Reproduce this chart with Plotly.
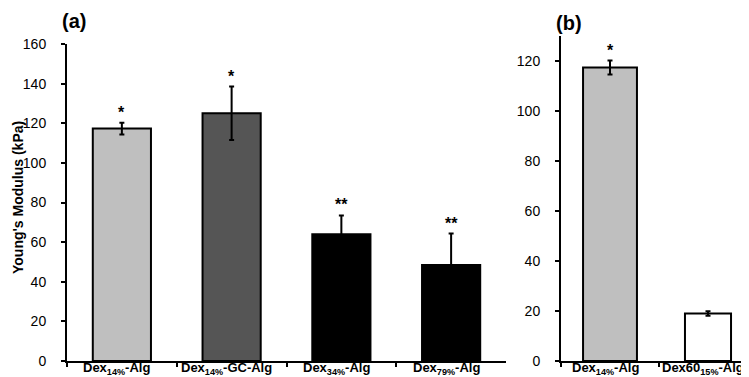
import plotly.graph_objects as go

# Panel (a)
cats_a = ["Dex<sub>14%</sub>-Alg", "Dex<sub>14%</sub>-GC-Alg",
          "Dex<sub>34%</sub>-Alg", "Dex<sub>79%</sub>-Alg"]
vals_a = [117.3, 125.0, 64.0, 48.5]
errs_a = [3.0, 13.5, 9.5, 15.8]
colors_a = ["#BFBFBF", "#555555", "#000000", "#000000"]
stars_a = ["*", "*", "**", "**"]

# Panel (b)
cats_b = ["Dex<sub>14%</sub>-Alg", "Dex60<sub>15%</sub>-Alg"]
vals_b = [117.4, 19.0]
errs_b = [2.8, 0.9]
colors_b = ["#BFBFBF", "#FFFFFF"]
stars_b = ["*", ""]

yticks_a = [0, 20, 40, 60, 80, 100, 120, 140, 160]
yticks_b = [0, 20, 40, 60, 80, 100, 120]

FONT = "Liberation Sans, Arial"

fig = go.Figure()
fig.add_trace(go.Bar(
    x=cats_a, y=vals_a, width=0.53,
    marker=dict(color=colors_a, line=dict(color="black", width=2)),
    error_y=dict(type="data", array=errs_a, color="black", thickness=2, width=2.5),
    xaxis="x", yaxis="y", showlegend=False))
fig.add_trace(go.Bar(
    x=cats_b, y=vals_b, width=[0.55, 0.47],
    marker=dict(color=colors_b, line=dict(color="black", width=2)),
    error_y=dict(type="data", array=errs_b, color="black", thickness=2, width=2.5),
    xaxis="x2", yaxis="y2", showlegend=False))

annotations = []
star_font = dict(size=16, color="black", family=FONT)
cat_font = dict(size=13, color="black", family=FONT)
for c, v, e, s in zip(cats_a, vals_a, errs_a, stars_a):
    annotations.append(dict(x=c, y=v + e, xref="x", yref="y", text="<b>" + s + "</b>",
                            showarrow=False, yanchor="bottom", yshift=0, font=star_font))
    annotations.append(dict(x=c, y=0, xref="x", yref="y", text="<b>" + c + "</b>",
                            showarrow=False, xanchor="center", yanchor="middle",
                            yshift=-7, xshift=-5, font=cat_font))
for c, v, e, s in zip(cats_b, vals_b, errs_b, stars_b):
    if s:
        annotations.append(dict(x=c, y=v + e, xref="x2", yref="y2", text="<b>" + s + "</b>",
                                showarrow=False, yanchor="bottom", yshift=0, font=star_font))
    annotations.append(dict(x=c, y=0, xref="x2", yref="y2", text="<b>" + c + "</b>",
                            showarrow=False, xanchor="center", yanchor="middle",
                            yshift=-7, xshift=-5, font=cat_font))
annotations.append(dict(x=66 / 749, y=1 - 13 / 377, xref="paper", yref="paper", text="<b>(a)</b>",
                        showarrow=False, xanchor="center", yanchor="middle",
                        font=dict(size=20, color="black", family=FONT)))
annotations.append(dict(x=561 / 749, y=1 - 15 / 377, xref="paper", yref="paper", text="<b>(b)</b>",
                        showarrow=False, xanchor="center", yanchor="middle",
                        font=dict(size=20, color="black", family=FONT)))
annotations.append(dict(x=10 / 749, y=1 - 190 / 377, xref="paper", yref="paper",
                        text="<b>Young's Modulus (kPa)</b>", textangle=-90,
                        showarrow=False, xanchor="center", yanchor="middle",
                        font=dict(size=14, color="black", family=FONT)))

axis_common = dict(showline=True, linecolor="black", linewidth=2, showgrid=False,
                   zeroline=False, ticks="outside", ticklen=4, tickwidth=1.5,
                   tickcolor="black", automargin=False)

fig.update_layout(
    width=749, height=377,
    margin=dict(l=0, r=0, t=0, b=0),
    paper_bgcolor="white", plot_bgcolor="white",
    font=dict(family=FONT, color="black"),
    annotations=annotations,
    xaxis=dict(domain=[59 / 749, 498 / 749], anchor="y", tickson="boundaries",
               showticklabels=False, **axis_common),
    yaxis=dict(domain=[24 / 377, 341 / 377], anchor="x", range=[0, 160],
               tickvals=yticks_a, tickfont=dict(size=14, color="black"),
               ticklabelstandoff=12, **axis_common),
    xaxis2=dict(domain=[553 / 749, 1.0], anchor="y2", tickson="boundaries",
                showticklabels=False, **axis_common),
    yaxis2=dict(domain=[24 / 377, 349 / 377], anchor="x2", range=[0, 130],
                tickvals=yticks_b, tickfont=dict(size=14, color="black"),
                ticklabelstandoff=12, **axis_common),
)

fig.write_html("out.html")
